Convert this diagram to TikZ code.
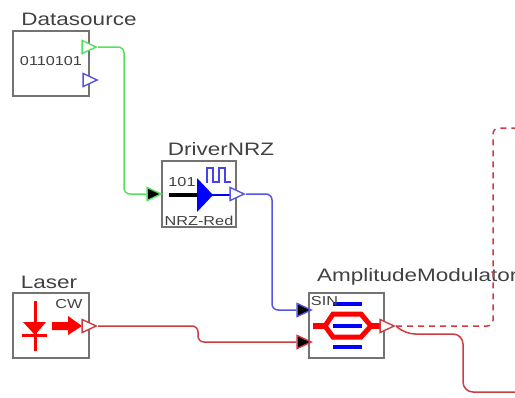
\documentclass[tikz,border=0pt]{standalone}
\usepackage{fontspec}
\setmainfont[FakeStretch=1.25]{Liberation Sans}
\usepackage{tikz}
\usetikzlibrary{shapes}
\definecolor{boxgray}{RGB}{115,115,115}
\definecolor{txtgray}{RGB}{65,65,65}
\definecolor{sigred}{RGB}{205,60,65}
\definecolor{siggreen}{RGB}{85,225,95}
\definecolor{sigblue}{RGB}{85,85,225}
\tikzset{
  block/.style={draw=boxgray,line width=1.4pt,fill=white,inner sep=0pt},
  title/.style={text=txtgray,font=\fontsize{18}{18}\selectfont,inner sep=0pt},
  small/.style={text=txtgray,font=\fontsize{13}{13}\selectfont,inner sep=0pt},
  port/.style={isosceles triangle,isosceles triangle stretches,shape border rotate=0,
    minimum width=13pt,minimum height=14pt,inner sep=0pt,anchor=apex,line width=1.4pt},
  outport/.style={port,draw=#1,fill=white},
  inport/.style={port,draw=#1,fill=black},
  wire/.style={draw=#1,line width=1.5pt,rounded corners=6pt}
}
\begin{document}
\begin{tikzpicture}[x=1pt,y=-1pt]
\useasboundingbox (0,0) rectangle (515,397);
% blocks
\node[block,minimum width=76pt,minimum height=65pt] (DATA) at (51,63.5) {};
\node[block,minimum width=74pt,minimum height=66pt] (DRIVER) at (199,194) {};
\node[block,minimum width=76pt,minimum height=65pt] (LASER) at (51,325.5) {};
\node[block,minimum width=75pt,minimum height=65pt] (MOD) at (346.5,325.5) {};
% modulator icon
\draw[blue,line width=4.5pt] (333,304) -- (362,304);
\draw[red,line width=5pt] (325,326) -- (333,314) -- (361,314) -- (371,326) -- (361,337) -- (333,337) -- cycle;
\draw[blue,line width=4.5pt] (333,326) -- (362,326);
\draw[blue,line width=4.5pt] (333,347) -- (362,347);
\draw[red,line width=5.5pt] (313,326) -- (325,326);
\draw[red,line width=5.5pt] (371,326) -- (382,326);
% titles
\node[title] (DATATITLE) at (79,19) {Datasource};
\node[title] (DRIVERTITLE) at (221,149) {DriverNRZ};
\node[title] (LASERTITLE) at (49,282) {Laser};
\node[title,anchor=west] (MODTITLE) at (317,277) {AmplitudeModulator};
% small texts
\node[small] (DATATEXT) at (51,61) {0110101};
\node[small] (DRIVERTEXT) at (182,182) {101};
\node[small] (DRIVERNAME) at (199,221) {NRZ-Red};
\node[small] (LASERTEXT) at (69,304) {CW};
\node[small] (MODTEXT) at (324.5,301) {SIN};
% laser icon
\draw[red,line width=3pt] (35,301) -- (35,351);
\draw[red,line width=3pt] (22,335) -- (47,335);
\fill[red] (23,322) -- (46,322) -- (35,335) -- cycle;
\fill[red] (52,322) -- (68,322) -- (68,316) -- (82,326) -- (68,335) -- (68,330) -- (52,330) -- cycle;
% driver icon
\draw[black,line width=3.5pt] (169,195) -- (198,195);
\draw[blue,line width=2.5pt] (210,195) -- (232,195);
\fill[blue] (197,178) -- (213,195) -- (197,212) -- cycle;
\draw[sigblue!80!blue,line width=1.7pt] (206,182) -- (207,182) -- (207,168) -- (213,168) -- (213,182)
  -- (219,182) -- (219,168) -- (225,168) -- (225,182) -- (231,182);
% ports
\node[outport=siggreen] (DATAOUT) at (98,47) {};
\node[outport=sigblue] (DATAOUTB) at (99,80) {};
\node[inport=siggreen] (DRIVERIN) at (163,194) {};
\node[outport=sigblue] (DRIVEROUT) at (246,194) {};
\node[outport=sigred] (LASEROUT) at (98,326) {};
\node[inport=sigblue] (MODSIG) at (313,310) {};
\node[inport=sigred] (MODIN) at (313,342) {};
\node[outport=sigred] (MODOUT) at (396,326) {};
% free ends
\coordinate (DASHEND) at (515,128);
\coordinate (LINEEND) at (515,392);
% wires
\draw[wire=siggreen] (DATAOUT.apex) -- (124,47) -- (124,194) -- (DRIVERIN.west);
\draw[wire=sigblue] (DRIVEROUT.apex) -- (272,194) -- (272,310) -- (MODSIG.west);
\draw[wire=sigred] (LASEROUT.apex) -- (198,326) -- (198,342) -- (MODIN.west);
\draw[wire=sigred,dash pattern=on 6pt off 5pt] (MODOUT.apex) -- (493,326) -- (493,128) -- (DASHEND);
\draw[wire=sigred,rounded corners=10pt] (MODOUT.apex) -- (405,334) -- (463,334) -- (463,392) -- (LINEEND);
\end{tikzpicture}
\end{document}
